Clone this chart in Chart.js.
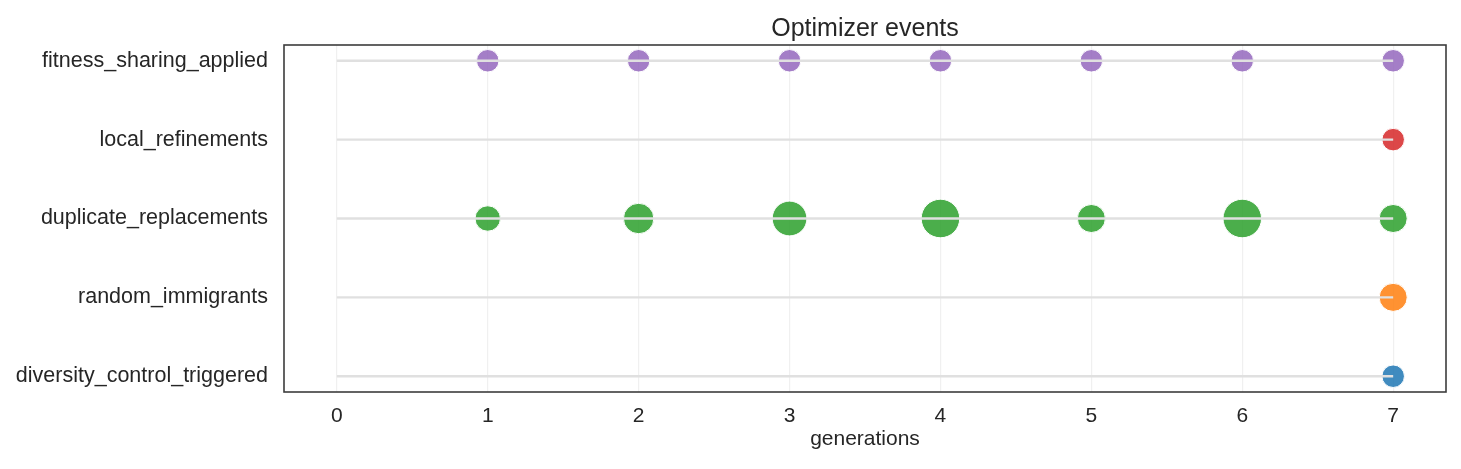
<!DOCTYPE html>
<html>
<head>
<meta charset="utf-8">
<script src="https://cdn.jsdelivr.net/npm/chart.js@4.4.1/dist/chart.umd.min.js"></script>
<style>
  html, body { margin: 0; padding: 0; background: #fff; }
  #wrap { width: 1461px; height: 469px; }
</style>
</head>
<body>
<div id="wrap"><canvas id="chart" width="1461" height="469"></canvas></div>
<script>
// rows, bottom to top
const categories = [
    "diversity_control_triggered",
    "random_immigrants",
    "duplicate_replacements",
    "local_refinements",
    "fitness_sharing_applied"
];
const generations = [0, 1, 2, 3, 4, 5, 6, 7];

// event counts per generation (0 = no event)
const diversityCounts = [0, 0, 0, 0, 0, 0, 0, 1];
const immigrantCounts = [0, 0, 0, 0, 0, 0, 0, 3];
const duplicateCounts = [0, 2, 4, 6, 8, 3, 8, 3];
const refinementCounts = [0, 0, 0, 0, 0, 0, 0, 1];
const sharingCounts = [0, 1, 1, 1, 1, 1, 1, 1];

const seriesCounts = [diversityCounts, immigrantCounts, duplicateCounts, refinementCounts, sharingCounts];
const colors = [
    "rgba(31,119,180,0.85)",
    "rgba(255,127,14,0.85)",
    "rgba(44,160,44,0.85)",
    "rgba(214,39,40,0.85)",
    "rgba(148,103,189,0.85)"
];

const FONT = '"Liberation Sans", Arial, Helvetica, sans-serif';
const TEXT = "#262626";

function radius(count) {
    return Math.sqrt(92 + 35 * count);
}

const datasets = [];

// gray row lines, drawn on top of the bubbles
categories.forEach((c, i) => {
    datasets.push({
        type: "line",
        data: [
            { x: generations[0], y: i },
            { x: generations[generations.length - 1], y: i }
        ],
        borderColor: "#e0e0e0",
        borderWidth: 2.4,
        pointRadius: 0,
        fill: false,
        order: 0
    });
});

seriesCounts.forEach((counts, i) => {
    const pts = [];
    counts.forEach((n, g) => {
        if (n > 0) pts.push({ x: generations[g], y: i, r: radius(n) });
    });
    datasets.push({
        type: "bubble",
        label: categories[i],
        data: pts,
        backgroundColor: colors[i],
        borderColor: "#ffffff",
        borderWidth: 1,
        order: 1
    });
});

const frameAndText = {
    id: "frameAndText",
    afterDraw(chart) {
        const { ctx, chartArea: a } = chart;
        ctx.save();
        ctx.strokeStyle = "#3c3c3c";
        ctx.lineWidth = 1.6;
        ctx.strokeRect(a.left, a.top, a.right - a.left, a.bottom - a.top);

        const cx = (a.left + a.right) / 2;
        ctx.fillStyle = TEXT;
        ctx.textAlign = "center";
        ctx.textBaseline = "alphabetic";
        ctx.font = "25px " + FONT;
        ctx.fillText("Optimizer events", cx, 36);
        ctx.font = "21px " + FONT;
        ctx.fillText("generations", cx, 445);
        ctx.restore();
    }
};

new Chart(document.getElementById("chart"), {
    type: "bubble",
    data: { datasets },
    options: {
        responsive: false,
        animation: false,
        devicePixelRatio: 1,
        layout: { autoPadding: false, padding: { top: 45, right: 15, left: 0, bottom: 0 } },
        plugins: {
            legend: { display: false },
            tooltip: { enabled: false },
            title: { display: false }
        },
        scales: {
            x: {
                type: "linear",
                min: -0.35,
                max: 7.35,
                afterBuildTicks: s => { s.ticks = generations.map(v => ({ value: v })); },
                afterFit: s => { s.height = 77; s.paddingLeft = 0; s.paddingRight = 0; },
                grid: { color: "#f0f0f0", lineWidth: 1.2, drawTicks: false },
                border: { display: false },
                ticks: {
                    padding: 12,
                    color: TEXT,
                    font: { family: FONT, size: 21 }
                }
            },
            y: {
                type: "linear",
                min: -0.2,
                max: 4.2,
                afterBuildTicks: s => { s.ticks = categories.map((c, i) => ({ value: i })); },
                afterFit: s => { s.width = 284; s.paddingTop = 0; s.paddingBottom = 0; },
                grid: { display: false, drawTicks: false },
                border: { display: false },
                ticks: {
                    padding: 16,
                    color: TEXT,
                    font: { family: FONT, size: 21.5 },
                    callback: v => categories[v]
                }
            }
        }
    },
    plugins: [frameAndText]
});
</script>
</body>
</html>
